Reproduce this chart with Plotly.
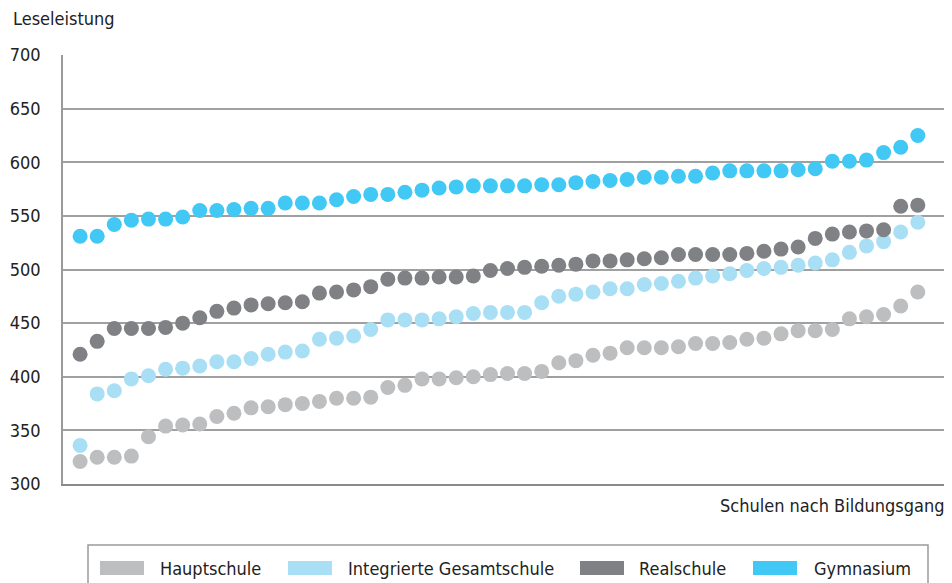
import plotly.graph_objects as go

# ---- data ----
schools = list(range(1, 51))
hauptschule = [321, 325, 325, 326, 344, 354, 355, 356, 363, 366, 371, 372, 374, 375, 377, 380, 380, 381, 390, 392,
               398, 398, 399, 400, 402, 403, 403, 405, 413, 415, 420, 422, 427, 427, 427, 428, 431, 431, 432, 435,
               436, 440, 443, 443, 444, 454, 456, 458, 466, 479]
gesamtschule = [336, 384, 387, 398, 401, 407, 408, 410, 414, 414, 417, 421, 423, 424, 435, 436, 438, 444, 453, 453,
                453, 454, 456, 459, 460, 460, 460, 469, 475, 477, 479, 482, 482, 486, 487, 489, 492, 494, 496, 499,
                501, 502, 504, 506, 509, 516, 522, 526, 535, 544]
realschule = [421, 433, 445, 445, 445, 446, 450, 455, 461, 464, 467, 468, 469, 470, 478, 479, 481, 484, 491, 492,
              492, 493, 493, 494, 499, 501, 502, 503, 504, 505, 508, 508, 509, 510, 511, 514, 514, 514, 514, 515,
              517, 519, 521, 529, 533, 535, 536, 537, 559, 560]
gymnasium = [531, 531, 542, 546, 547, 547, 549, 555, 555, 556, 557, 557, 562, 562, 562, 565, 568, 570, 570, 572,
             574, 576, 577, 578, 578, 578, 578, 579, 579, 581, 582, 583, 584, 586, 586, 587, 587, 590, 592, 592,
             592, 592, 593, 594, 601, 601, 602, 609, 614, 625]
series_names = ["Hauptschule", "Integrierte Gesamtschule", "Realschule", "Gymnasium"]
y_ticks = [300, 350, 400, 450, 500, 550, 600, 650, 700]

colors = ["#BDBEC0", "#A8DFF5", "#808184", "#42C8F4"]
FONT = "Liberation Sans Narrow, DejaVu Sans Condensed, Arial Narrow, sans-serif"
TXT = "#222222"

OFF = 8  # page body margin
W, H = 952 - OFF, 583 - OFF
L, T = 63 - OFF, 55 - OFF
R = 0
B = H - (484 - OFF)
PW, PH = W - L - R, H - T - B


def px(x):
    # x in reference-window pixels -> paper coordinate
    return (x - OFF - L) / PW


def py(y):
    return (H - B - (y - OFF)) / PH


fig = go.Figure()
for name, vals, col in zip(series_names, [hauptschule, gesamtschule, realschule, gymnasium], colors):
    fig.add_trace(go.Scatter(x=schools, y=vals, mode="markers", name=name, showlegend=False,
                             marker=dict(color=col, size=15, line=dict(width=0))))

shapes = []
annotations = []
# legend box
shapes.append(dict(type="rect", xref="paper", yref="paper", x0=px(88), x1=px(928), y0=py(600), y1=py(545),
                   line=dict(color="#9a9a9a", width=1.5), fillcolor="rgba(0,0,0,0)"))
legend_items = [(100, 158), (288, 346), (580, 637), (753, 812)]
for (sx, tx), name, col in zip(legend_items, series_names, colors):
    shapes.append(dict(type="rect", xref="paper", yref="paper", x0=px(sx), x1=px(sx + 44), y0=py(575), y1=py(561),
                       line=dict(width=0), fillcolor=col))
    annotations.append(dict(text=name, xref="paper", yref="paper", x=px(tx), y=py(568), xanchor="left",
                            yanchor="middle", showarrow=False, font=dict(family=FONT, size=18, color=TXT)))

annotations.append(dict(text="Leseleistung", xref="paper", yref="paper", x=px(11), y=py(19), xanchor="left",
                        yanchor="middle", showarrow=False, font=dict(family=FONT, size=18, color=TXT)))
annotations.append(dict(text="Schulen nach Bildungsgang", xref="paper", yref="paper", x=px(947), y=py(505),
                        xanchor="right", yanchor="middle", showarrow=False,
                        font=dict(family=FONT, size=18, color=TXT)))

fig.update_layout(
    width=W, height=H,
    margin=dict(l=L, r=R, t=T, b=B, pad=0),
    paper_bgcolor="white", plot_bgcolor="white",
    font=dict(family=FONT, size=18, color=TXT),
    shapes=shapes, annotations=annotations,
    showlegend=False,
    xaxis=dict(range=[0, 52], showgrid=False, zeroline=False, showticklabels=False, ticks="",
               showline=True, linecolor="#8a8a8a", linewidth=2, mirror=False),
    yaxis=dict(range=[300, 700], tickvals=y_ticks, ticktext=[str(v) for v in y_ticks],
               showgrid=True, gridcolor="#a0a0a0", gridwidth=1.5, zeroline=False,
               showline=True, linecolor="#9a9a9a", linewidth=1.5, ticks="",
               ticklabelstandoff=17, tickfont=dict(family=FONT, size=18, color=TXT)),
)

fig.write_html("out.html")
